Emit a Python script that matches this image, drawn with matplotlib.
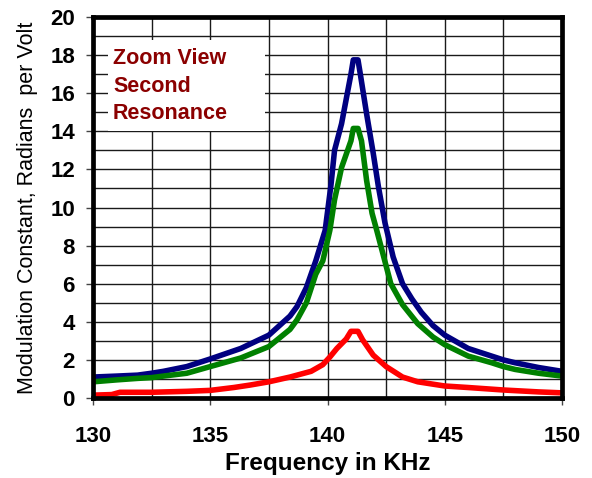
import matplotlib
matplotlib.use("Agg")
import matplotlib.pyplot as plt
from matplotlib.ticker import MultipleLocator
from matplotlib.patches import Rectangle

plt.rcParams['font.family'] = ['Liberation Sans', 'DejaVu Sans']

blue_f = [130, 131, 131.9, 132.5, 133, 134, 135, 136.3, 137.5, 138.4, 138.7, 139.1, 139.5, 139.9,
          140.15, 140.3, 140.6, 141.0, 141.1, 141.3, 141.4, 141.67, 141.95, 142.17, 142.45,
          142.8, 143.2, 143.6, 144, 144.5, 145, 146, 147, 147.5, 148, 149, 150]
blue_v = [1.1, 1.15, 1.2, 1.3, 1.4, 1.65, 2.05, 2.6, 3.3, 4.3, 4.8, 5.8, 7.2, 8.8,
          11.2, 13.0, 14.4, 17.0, 17.75, 17.75, 17.0, 14.9, 12.85, 11.1, 9.2,
          7.4, 6.0, 5.2, 4.5, 3.8, 3.3, 2.6, 2.2, 2.0, 1.85, 1.6, 1.4]

green_f = [130, 131, 131.9, 132.5, 133, 134, 135, 136.3, 137.5, 138.4, 138.7, 139.1, 139.5, 139.8,
           140.1, 140.3, 140.6, 141.0, 141.1, 141.3, 141.45, 141.67, 141.9, 142.1, 142.4,
           142.7, 143.2, 143.85, 144.5, 145, 146, 147, 147.5, 148, 149, 150]
green_v = [0.85, 0.95, 1.03, 1.07, 1.15, 1.3, 1.65, 2.1, 2.7, 3.6, 4.1, 5.0, 6.5, 7.2,
           8.8, 10.4, 12.1, 13.5, 14.15, 14.15, 13.5, 11.4, 9.7, 8.8, 7.4,
           6.0, 4.9, 3.9, 3.2, 2.8, 2.2, 1.85, 1.65, 1.5, 1.3, 1.15]

red_f = [130, 130.8, 131.15, 132.5, 134, 135, 136, 136.7, 137.5, 138.4, 139.3, 139.8, 140.1,
         140.4, 140.8, 141.0, 141.3, 141.5, 141.95, 142.5, 143.2, 143.85, 145, 146, 147.5,
         149, 150]
red_v = [0.15, 0.18, 0.3, 0.3, 0.35, 0.4, 0.55, 0.68, 0.85, 1.1, 1.4, 1.75, 2.15,
         2.6, 3.1, 3.5, 3.5, 3.05, 2.25, 1.65, 1.1, 0.85, 0.63, 0.55, 0.42,
         0.32, 0.27]

x_ticks = [130, 135, 140, 145, 150]
y_ticks = [0, 2, 4, 6, 8, 10, 12, 14, 16, 18, 20]

fig = plt.figure(figsize=(5.92, 4.78), dpi=100)
ax = fig.add_axes([93/592, 1-398/478, (562-93)/592, (398-17)/478])

line_kw = dict(lw=4.0, solid_capstyle='round', solid_joinstyle='round', zorder=3)
ax.plot(blue_f, blue_v, color='#000080', **line_kw)
ax.plot(green_f, green_v, color='#008000', **line_kw)
ax.plot(red_f, red_v, color='#FF0000', **line_kw)

ax.set_xlim(130, 150)
ax.set_ylim(0, 20)
ax.set_xticks(x_ticks)
ax.set_yticks(y_ticks)
ax.xaxis.set_minor_locator(MultipleLocator(2.5))
ax.yaxis.set_minor_locator(MultipleLocator(1))
ax.grid(True, which='both', color='#1a1a1a', lw=1.0, zorder=0)
ax.set_axisbelow(True)
ax.tick_params(axis='both', which='minor', length=0)
ax.tick_params(axis='both', which='major', direction='out', length=5, width=1, color='#444444',
               labelsize=16)
ax.tick_params(axis='x', which='major', pad=15)
ax.tick_params(axis='y', which='major', pad=8)
for lab in ax.get_xticklabels() + ax.get_yticklabels():
    lab.set_fontweight('bold')

for s in ['left', 'right', 'top', 'bottom']:
    ax.spines[s].set_linewidth(3.4)
    ax.spines[s].set_color('black')
    ax.spines[s].set_zorder(5)

ax.set_xlabel('Frequency in KHz', fontsize=17.5, fontweight='bold', labelpad=4)
ax.set_ylabel('Modulation Constant, Radians  per Volt', fontsize=15.5, labelpad=9)

# white backdrop for the annotation
ax.add_patch(Rectangle((15/469, (398-131)/381), (265-108)/469, (131-40)/381,
                       transform=ax.transAxes, facecolor='white', edgecolor='none', zorder=2))
ax.text(20/469, (398-48)/381, 'Zoom View\nSecond\nResonance', transform=ax.transAxes,
        color='#8B0000', fontsize=15.5, fontweight='bold', va='top', ha='left',
        linespacing=1.42, zorder=4)

fig.savefig('out.png', dpi=100)
